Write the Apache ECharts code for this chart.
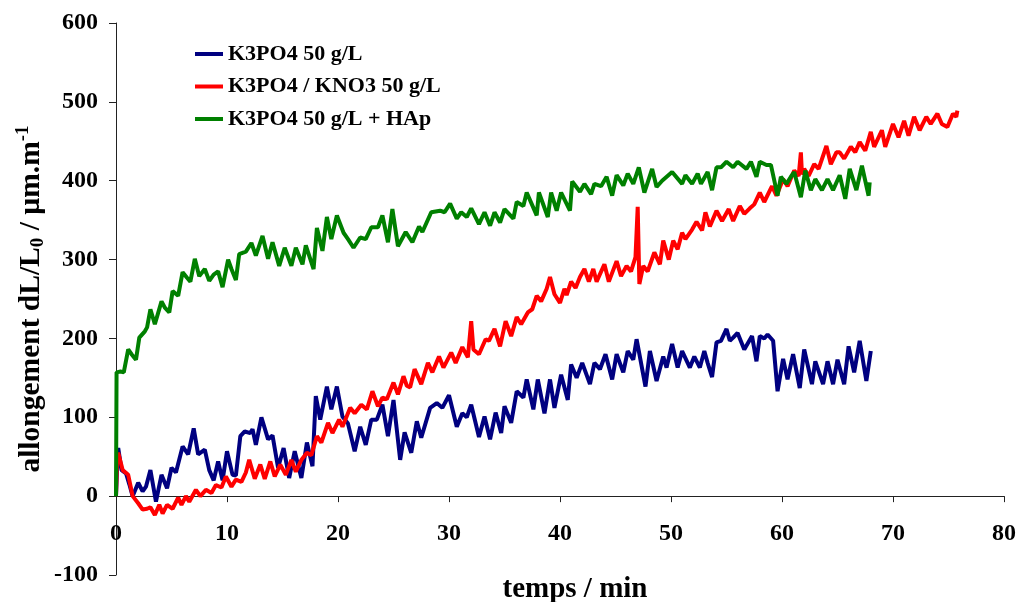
<!DOCTYPE html>
<html>
<head>
<meta charset="utf-8">
<script src="https://cdn.jsdelivr.net/npm/echarts@6/dist/echarts.min.js"></script>
<style>
html,body{margin:0;padding:0;background:#fff;}
#chart{width:1018px;height:602px;}
</style>
</head>
<body>
<div id="chart"></div>
<script>
// ---- data (time in min, elongation in µm/m) ----
const seriesNames = ['K3PO4 50 g/L', 'K3PO4 / KNO3 50 g/L', 'K3PO4 50 g/L + HAp'];
const xTicks = [0, 10, 20, 30, 40, 50, 60, 70, 80];
const yTicks = [-100, 0, 100, 200, 300, 400, 500, 600];

const blueData = [[0,0],[0.15,55],[0.2,61],[0.5,33],[0.9,29],[1.2,15],[1.5,0],[2.0,17],[2.4,6],[2.7,12],[3.1,33],[3.6,-7],[4.1,27],[4.6,10],[5.0,36],[5.4,30],[6.0,63],[6.5,53],[7.0,86],[7.4,53],[8.0,59],[8.4,33],[8.8,20],[9.2,44],[9.6,20],[10.0,57],[10.5,27],[10.8,26],[11.2,76],[11.6,82],[12.1,80],[12.3,85],[12.6,65],[13.1,100],[13.7,72],[14.1,77],[14.6,36],[15.1,61],[15.6,23],[16.1,57],[16.7,23],[17.2,68],[17.7,38],[18.0,127],[18.4,97],[19.0,139],[19.4,110],[19.9,139],[20.4,101],[20.9,92],[21.5,57],[22.0,88],[22.5,65],[23.0,97],[23.5,97],[24.0,116],[24.5,76],[25.0,122],[25.6,46],[26.0,81],[26.6,55],[27.1,95],[27.5,74],[28.3,112],[28.9,118],[29.4,112],[30.0,128],[30.7,88],[31.2,105],[31.6,100],[32.0,116],[32.7,75],[33.2,101],[33.7,72],[34.2,106],[34.7,80],[35.0,114],[35.6,93],[36.1,133],[36.7,125],[37.0,148],[37.6,110],[38.0,148],[38.6,105],[39.1,148],[39.5,112],[40.1,154],[40.7,122],[41.0,167],[41.5,150],[42.0,169],[42.7,142],[43.1,169],[43.6,161],[44.1,180],[44.7,148],[45.1,180],[45.7,157],[46.1,184],[46.6,173],[46.9,199],[47.7,139],[48.1,184],[48.7,146],[49.3,177],[49.6,163],[50.1,193],[50.6,163],[51.0,184],[51.7,163],[52.1,177],[52.6,163],[53.0,184],[53.3,169],[53.7,151],[54.1,195],[54.5,197],[55.0,212],[55.3,197],[55.6,201],[56.0,207],[56.6,186],[57.3,203],[57.7,171],[58.0,203],[58.4,200],[58.7,205],[59.2,197],[59.6,133],[60.1,174],[60.5,148],[61.0,180],[61.6,137],[62.0,186],[62.7,142],[63.0,171],[63.7,142],[64.1,171],[64.6,142],[65.0,173],[65.6,142],[66.0,190],[66.5,157],[67.0,197],[67.6,146],[68.0,184]];

const redData = [[0,0],[0.1,50],[0.2,55],[0.6,33],[1.1,27],[1.5,0],[2.0,-9],[2.4,-17],[2.8,-16],[3.1,-14],[3.5,-24],[3.9,-11],[4.2,-22],[4.6,-11],[5.1,-16],[5.6,-2],[5.9,-11],[6.3,0],[6.6,-7],[7.2,8],[7.6,0],[8.1,8],[8.6,4],[9.0,14],[9.5,11],[9.9,25],[10.4,12],[10.8,21],[11.3,18],[11.7,30],[12.0,46],[12.5,22],[13.0,40],[13.4,22],[13.9,44],[14.3,25],[14.8,40],[15.3,27],[15.8,46],[16.2,31],[16.7,46],[17.2,55],[17.6,52],[18.1,76],[18.5,68],[19.1,93],[19.5,80],[20.1,97],[20.4,88],[21.1,112],[21.5,105],[22.1,116],[22.6,110],[23.1,133],[23.6,114],[24.0,125],[24.4,123],[25.0,144],[25.4,129],[25.9,152],[26.2,140],[26.5,138],[26.9,161],[27.5,142],[28.1,169],[28.5,157],[29.1,177],[29.5,163],[30.2,182],[30.6,169],[31.2,189],[31.7,176],[32.0,222],[32.2,186],[32.7,180],[33.3,199],[33.6,197],[34.1,212],[34.6,190],[35.1,222],[35.6,203],[36.1,227],[36.5,218],[37.1,233],[37.5,237],[37.9,254],[38.3,247],[38.8,263],[39.1,278],[39.5,256],[40.0,245],[40.4,263],[40.6,255],[41.0,272],[41.4,264],[41.8,278],[42.2,288],[42.6,272],[43.0,288],[43.3,272],[44.0,294],[44.4,272],[45.1,298],[45.5,279],[46.0,292],[46.4,285],[46.8,303],[47.0,367],[47.15,269],[47.5,292],[47.9,285],[48.5,309],[49.0,294],[49.3,324],[49.8,300],[50.2,324],[50.6,313],[51.0,334],[51.3,326],[51.9,338],[52.3,348],[52.8,337],[53.1,360],[53.5,342],[54.1,362],[54.6,349],[55.2,364],[55.6,349],[56.2,368],[56.6,358],[57.1,365],[57.5,370],[58.0,385],[58.4,373],[59.1,393],[59.5,381],[60.1,402],[60.5,393],[61.1,413],[61.5,406],[61.7,436],[61.8,408],[62.0,415],[62.4,406],[62.9,421],[63.3,415],[64.0,444],[64.4,421],[64.9,436],[65.2,436],[65.6,428],[66.2,443],[66.6,436],[67.0,449],[67.5,438],[68.0,462],[68.3,443],[69.0,464],[69.3,443],[70.0,472],[70.5,455],[71.0,476],[71.4,457],[71.9,481],[72.4,464],[73.0,481],[73.4,472],[74.0,485],[74.4,472],[74.9,468],[75.4,485],[75.7,481],[75.8,489]];

const greenData = [[0,0],[0.05,157],[0.4,158],[0.7,157],[1.1,186],[1.4,180],[1.8,173],[2.1,201],[2.6,209],[2.8,214],[3.1,237],[3.5,218],[4.1,247],[4.4,239],[4.8,233],[5.1,260],[5.6,254],[6.0,284],[6.4,277],[6.7,272],[7.1,301],[7.5,279],[8.0,288],[8.4,273],[8.8,281],[9.2,285],[9.6,265],[10.1,300],[10.4,288],[10.8,274],[11.1,307],[11.7,310],[12.2,321],[12.6,305],[13.2,330],[13.7,301],[14.1,322],[14.7,292],[15.2,315],[15.8,292],[16.2,315],[16.8,294],[17.1,318],[17.8,288],[18.1,340],[18.6,311],[19.0,354],[19.4,326],[19.9,356],[20.5,334],[20.9,326],[21.4,315],[22.0,328],[22.5,326],[23.0,341],[23.6,341],[24.0,356],[24.5,322],[24.9,364],[25.4,317],[26.1,335],[26.7,322],[27.3,342],[27.6,335],[28.4,360],[29.2,362],[29.6,360],[30.1,371],[30.7,352],[31.1,360],[31.6,354],[32.0,365],[32.7,345],[33.2,360],[33.7,343],[34.1,360],[34.6,347],[35.0,364],[35.8,352],[36.1,373],[36.7,368],[37.0,385],[37.9,356],[38.1,385],[38.9,354],[39.2,385],[39.7,362],[40.1,385],[40.9,362],[41.1,399],[41.8,386],[42.2,396],[42.8,383],[43.1,396],[43.7,393],[44.2,405],[44.7,381],[45.1,407],[45.7,394],[46.1,409],[46.6,396],[47.1,417],[47.6,385],[48.3,415],[48.7,392],[49.2,400],[50.1,411],[51.0,396],[51.3,407],[51.9,396],[52.4,409],[52.7,396],[53.3,411],[53.7,388],[54.1,417],[54.5,417],[55.0,424],[55.6,417],[56.0,424],[56.8,415],[57.2,424],[57.7,405],[58.0,424],[58.6,420],[59.0,420],[59.6,381],[59.9,405],[60.4,396],[60.8,405],[61.1,411],[61.7,379],[62.1,413],[62.6,388],[63.0,402],[63.6,388],[64.1,402],[64.6,388],[65.2,407],[65.7,377],[66.1,415],[66.7,388],[67.2,419],[67.5,400],[67.8,381],[67.9,398]];

// ---- chart ----
const FONT = '"Liberation Serif", "Times New Roman", serif';
const W = 1018, H = 602;
const G = {left: 116, right: 14, top: 23, bottom: 27};
const yMin = yTicks[0], yMax = yTicks[yTicks.length - 1];
const plotH = H - G.top - G.bottom;
// x axis sits on the y = 0 line (lifted from the grid bottom)
const xAxisOffset = -plotH * (0 - yMin) / (yMax - yMin);

const chart = echarts.init(document.getElementById('chart'), null, {renderer: 'canvas'});
const lineW = 4;
const colors = ['#000080', '#FF0000', '#008000'];

chart.setOption({
  animation: false,
  backgroundColor: '#ffffff',
  grid: {left: G.left, right: G.right, top: G.top, bottom: G.bottom, containLabel: false, outerBoundsMode: 'none'},
  legend: {
    orient: 'vertical',
    left: 195,
    top: 43,
    padding: 0,
    icon: 'rect',
    itemWidth: 28,
    itemHeight: 4,
    itemGap: 10.5,
    data: seriesNames,
    textStyle: {fontFamily: FONT, fontSize: 22, fontWeight: 'bold', color: '#000'}
  },
  xAxis: {
    type: 'value',
    position: 'bottom',
    offset: xAxisOffset,
    min: xTicks[0],
    max: xTicks[xTicks.length - 1],
    interval: 10,
    name: 'temps / min',
    nameLocation: 'middle',
    nameGap: 79,
    nameMoveOverlap: false,
    nameTextStyle: {fontFamily: FONT, fontSize: 29, fontWeight: 'bold', color: '#000', padding: [0,0,0,30]},
    axisLine: {onZero: false, lineStyle: {color: '#222', width: 1}},
    axisTick: {show: true, inside: false, length: 6, lineStyle: {color: '#222'}},
    axisLabel: {fontFamily: FONT, fontSize: 24, fontWeight: 'bold', color: '#000', margin: 26, showMinLabel: true, showMaxLabel: true},
    splitLine: {show: false}
  },
  yAxis: {
    type: 'value',
    min: yMin,
    max: yMax,
    interval: 100,
    name: '{a|allongement dL/L}{s|0}{a| / µm.m}{p|-1}',
    nameLocation: 'middle',
    nameRotate: 90,
    nameGap: 68,
    nameMoveOverlap: false,
    nameTextStyle: {
      fontFamily: FONT, fontSize: 29.5, fontWeight: 'bold', color: '#000',
      rich: {
        a: {fontFamily: FONT, fontSize: 29.5, fontWeight: 'bold', color: '#000', lineHeight: 34},
        s: {fontFamily: FONT, fontSize: 19, fontWeight: 'bold', color: '#000', verticalAlign: 'bottom', lineHeight: 22},
        p: {fontFamily: FONT, fontSize: 19, fontWeight: 'bold', color: '#000', verticalAlign: 'top', lineHeight: 22}
      }
    },
    axisLine: {show: true, onZero: false, lineStyle: {color: '#222', width: 1}},
    axisTick: {show: true, inside: false, length: 7, lineStyle: {color: '#222'}},
    axisLabel: {fontFamily: FONT, fontSize: 24, fontWeight: 'bold', color: '#000', margin: 18},
    splitLine: {show: false}
  },
  series: [
    {name: seriesNames[0], type: 'line', data: blueData, showSymbol: false, symbol: 'none', color: colors[0], lineStyle: {width: lineW, color: colors[0]}, z: 2},
    {name: seriesNames[1], type: 'line', data: redData, showSymbol: false, symbol: 'none', color: colors[1], lineStyle: {width: lineW, color: colors[1]}, z: 3},
    {name: seriesNames[2], type: 'line', data: greenData, showSymbol: false, symbol: 'none', color: colors[2], lineStyle: {width: lineW, color: colors[2]}, z: 4}
  ]
});
</script>
</body>
</html>
